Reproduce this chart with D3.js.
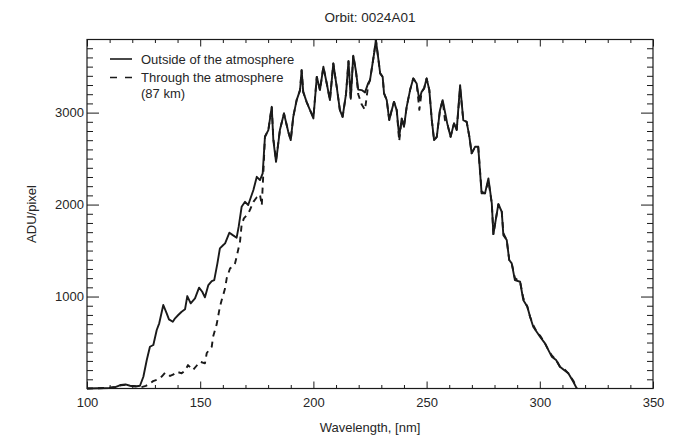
<!DOCTYPE html>
<html>
<head>
<meta charset="utf-8">
<script src="https://cdn.jsdelivr.net/npm/d3@7"></script>
<style>
  html, body { margin: 0; padding: 0; background: #fff; }
  svg { display: block; font-family: "Liberation Sans", Arial, Helvetica, sans-serif; }
</style>
</head>
<body>
<svg id="chart" width="681" height="440"></svg>
<script>
// Solar spectrum seen outside the atmosphere (solid line)
const outsideNm = [100,105,110,112.5,115,117,119,122,123.4,124.9,126.4,127.8,129.3,130.8,131.9,133.7,135.2,136.2,137.9,138.9,140.3,141.8,143.3,144.3,145.8,147.7,149.5,150.9,152.1,153.6,155.1,156.2,157.6,158.7,160.2,161.0,162.9,164.4,166.1,167.0,168.3,169.8,171.2,173.5,175.0,176.4,177.6,178.6,180.1,181.6,182.3,183.5,185.2,187.0,188.9,190.0,191.1,192.6,194.1,194.8,195.5,197.0,198.5,200.0,201.5,202.9,204.4,205.9,207.3,208.8,210.3,211.7,212.9,214.4,215.5,216.5,217.6,218.8,219.8,221.3,222.8,224.2,225.0,225.8,226.8,227.6,228.6,229.5,230.6,231.2,232.4,233.5,234.6,235.6,236.8,237.9,239.0,240.0,241.2,242.7,244.1,245.6,246.8,247.8,248.9,250.0,251.2,252.3,253.3,254.5,255.9,257.1,258.1,259.1,260.6,262.1,263.3,264.8,266.2,267.7,268.9,269.9,271.4,272.8,274.3,275.8,277.3,278.8,279.5,281.7,283.2,283.9,285.4,286.5,287.6,289.0,291.3,292.7,294.5,295.7,297.1,298.6,300.1,302.3,303.8,305.3,307.2,308.9,310.7,312.6,314.8,316.3];
const outsideAdu = [0,2,5,15,40,45,30,25,30,128,310,454,473,636,709,908,817,752,726,763,799,835,861,1005,926,980,1096,1052,991,1125,1168,1179,1361,1524,1560,1578,1694,1668,1640,1760,1976,2030,1995,2158,2302,2266,2339,2737,2810,3063,2701,2465,2810,2991,2791,2701,2954,3136,3245,3462,3226,3117,3027,2937,3389,3245,3498,3317,3136,3535,3280,3027,2954,3200,3560,3150,3620,3450,3250,3245,3220,3320,3353,3480,3640,3790,3600,3426,3389,3209,3136,2918,3027,3117,3027,2737,2937,2846,3063,3245,3372,3317,3136,3226,3263,3372,3245,2918,2701,2737,3027,3136,3009,2883,2737,2883,2810,3299,2918,2900,2737,2557,2628,2628,2122,2122,2285,2013,1679,2005,1922,1668,1614,1397,1361,1179,1161,962,889,780,672,617,563,491,418,346,310,237,201,165,74,2];

// Spectrum seen through the atmosphere at 87 km tangent height (dashed line)
const throughNm = [100,105,110,112.5,115,117,119,122,124,126,127.5,129.2,131.4,133,134.5,136.7,138,139.6,141.8,143.5,144.6,146.8,148.5,149.9,152.1,152.9,155.1,155.7,157.3,158.7,159.5,161,161.7,163.2,164.4,165.4,166.1,167.6,168.3,169.3,171.2,172.3,173.5,175.0,176.4,177.2,178.0,178.6,180.1,181.6,182.3,183.5,185.2,187.0,188.9,190.0,191.1,192.6,194.1,194.8,195.5,197.0,198.5,200.0,201.5,202.9,204.4,205.9,207.3,208.8,210.3,211.7,212.9,214.4,215.5,216.5,217.6,218.8,219.8,221.3,222.8,224.2,225.0,225.8,226.8,227.6,228.6,229.5,230.6,231.2,232.4,233.5,234.6,235.6,236.8,237.9,239.0,240.0,241.2,242.7,244.1,245.6,246.8,247.8,248.9,250.0,251.2,252.3,253.3,254.5,255.9,257.1,258.1,259.1,260.6,262.1,263.3,264.8,266.2,267.7,268.9,269.9,271.4,272.8,274.3,275.8,277.3,278.8,279.5,281.7,283.2,283.9,285.4,286.5,287.6,289.0,291.3,292.7,294.5,295.7,297.1,298.6,300.1,302.3,303.8,305.3,307.2,308.9,310.7,312.6,314.8,316.3];
const throughAdu = [0,3,8,18,35,40,28,20,15,28,50,80,100,130,172,136,150,183,165,200,255,200,250,291,274,386,454,563,700,889,962,1089,1198,1307,1324,1361,1433,1600,1780,1850,1900,1960,2030,2080,2110,1990,2400,2737,2810,3063,2720,2480,2810,2991,2791,2701,2954,3136,3245,3462,3226,3117,3027,2950,3389,3245,3498,3317,3136,3535,3280,3027,2954,3200,3560,3150,3620,3450,3200,3090,3030,3300,3353,3480,3640,3790,3600,3426,3389,3209,3136,2918,3027,3117,3027,2690,2937,2846,3063,3245,3372,3317,3030,3226,3263,3372,3245,2918,2701,2737,3027,3136,2920,2883,2737,2883,2810,3270,2918,2900,2737,2557,2628,2628,2140,2122,2260,2013,1679,2005,1922,1690,1614,1397,1361,1200,1161,985,889,780,690,617,575,491,418,360,310,237,215,165,85,5];

const xTicks = [100, 150, 200, 250, 300, 350];
const yTicks = [1000, 2000, 3000];
const xMinorTicks = d3.range(110, 350, 10).filter(v => v % 50 !== 0);
const yMinorTicks = d3.range(100, 3800, 100).filter(v => v % 1000 !== 0);
const legendLabels = ["Outside of the atmosphere", "Through the atmosphere", "(87 km)"];
const titleText = "Orbit: 0024A01";
const xTitle = "Wavelength, [nm]";
const yTitle = "ADU/pixel";

const svg = d3.select("#chart");
const ink = "#1a1a1a";
const textInk = "#262626";

const x = d3.scaleLinear().domain([100, 350]).range([87, 653]);
const y = d3.scaleLinear().domain([0, 3795]).range([388.5, 39.5]);

const [x0, x1] = x.range();
const [y0, y1] = y.range();

function styleAxis(g) {
  g.select(".domain").remove();
  g.selectAll(".tick line").attr("stroke", ink).attr("stroke-width", 1);
  g.selectAll(".tick text").attr("fill", textInk).attr("font-size", 13)
    .attr("font-family", "Liberation Sans, Arial, sans-serif");
}

// major + minor ticks on all four sides, pointing inward
svg.append("g").attr("transform", `translate(0,${y0})`)
  .call(d3.axisBottom(x).tickValues(xTicks).tickSizeInner(-7).tickSizeOuter(0)
    .tickPadding(9.3).tickFormat(d3.format("d"))).call(styleAxis);
svg.append("g").attr("transform", `translate(0,${y0})`)
  .call(d3.axisBottom(x).tickValues(xMinorTicks).tickSizeInner(-3.5).tickSizeOuter(0).tickFormat(""))
  .call(styleAxis);
svg.append("g").attr("transform", `translate(0,${y1})`)
  .call(d3.axisTop(x).tickValues(xTicks).tickSizeInner(-7).tickSizeOuter(0).tickFormat(""))
  .call(styleAxis);
svg.append("g").attr("transform", `translate(0,${y1})`)
  .call(d3.axisTop(x).tickValues(xMinorTicks).tickSizeInner(-3.5).tickSizeOuter(0).tickFormat(""))
  .call(styleAxis);

svg.append("g").attr("transform", `translate(${x0},0)`)
  .call(d3.axisLeft(y).tickValues(yTicks).tickSizeInner(-12).tickSizeOuter(0)
    .tickPadding(3).tickFormat(d3.format("d"))).call(styleAxis);
svg.append("g").attr("transform", `translate(${x0},0)`)
  .call(d3.axisLeft(y).tickValues(yMinorTicks).tickSizeInner(-6).tickSizeOuter(0).tickFormat(""))
  .call(styleAxis);
svg.append("g").attr("transform", `translate(${x1},0)`)
  .call(d3.axisRight(y).tickValues(yTicks).tickSizeInner(-12).tickSizeOuter(0).tickFormat(""))
  .call(styleAxis);
svg.append("g").attr("transform", `translate(${x1},0)`)
  .call(d3.axisRight(y).tickValues(yMinorTicks).tickSizeInner(-6).tickSizeOuter(0).tickFormat(""))
  .call(styleAxis);

// plot frame
svg.append("rect")
  .attr("x", x0).attr("y", y1)
  .attr("width", x1 - x0).attr("height", y0 - y1)
  .attr("fill", "none").attr("stroke", ink).attr("stroke-width", 1.2);

// spectra
const line = d3.line().x(d => x(d[0])).y(d => y(d[1]));
const outside = outsideNm.map((w, i) => [w, outsideAdu[i]]);
const through = throughNm.map((w, i) => [w, throughAdu[i]]);

svg.append("path").datum(through)
  .attr("d", line).attr("fill", "none").attr("stroke", ink)
  .attr("stroke-width", 1.9).attr("stroke-dasharray", "6,5")
  .attr("stroke-linejoin", "round");
svg.append("path").datum(outside)
  .attr("d", line).attr("fill", "none").attr("stroke", ink)
  .attr("stroke-width", 1.9).attr("stroke-linejoin", "round");

// legend
const legend = svg.append("g").attr("font-size", 13).attr("fill", textInk);
legend.append("line").attr("x1", 110).attr("x2", 132).attr("y1", 59).attr("y2", 59)
  .attr("stroke", ink).attr("stroke-width", 1.6);
legend.append("line").attr("x1", 110).attr("x2", 132).attr("y1", 77.5).attr("y2", 77.5)
  .attr("stroke", ink).attr("stroke-width", 1.6).attr("stroke-dasharray", "7,8");
legend.append("text").attr("x", 141).attr("y", 63.5).text(legendLabels[0]);
legend.append("text").attr("x", 141).attr("y", 82).text(legendLabels[1]);
legend.append("text").attr("x", 141).attr("y", 98).text(legendLabels[2]);

// titles
svg.append("text").attr("x", (x0 + x1) / 2).attr("y", 22)
  .attr("text-anchor", "middle").attr("font-size", 13.5).attr("fill", textInk)
  .text(titleText);
svg.append("text").attr("x", (x0 + x1) / 2).attr("y", 432)
  .attr("text-anchor", "middle").attr("font-size", 13).attr("fill", textInk)
  .text(xTitle);
svg.append("text").attr("transform", `translate(35.5,${(y0 + y1) / 2}) rotate(-90)`)
  .attr("text-anchor", "middle").attr("font-size", 13).attr("fill", textInk)
  .text(yTitle);
</script>
</body>
</html>
